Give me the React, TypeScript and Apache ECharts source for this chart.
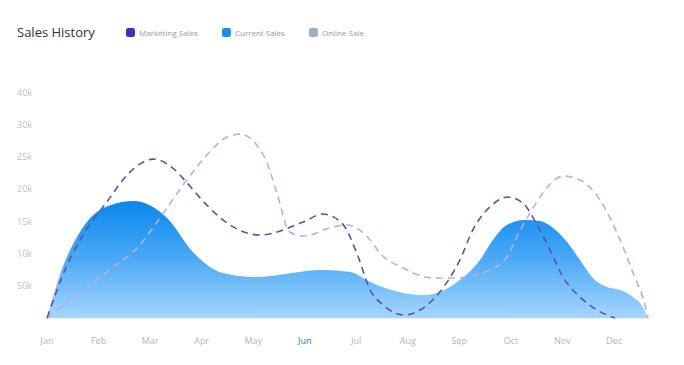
import React, { useEffect, useRef } from "react";
import * as echarts from "echarts";

const months = ["Jan", "Feb", "Mar", "Apr", "May", "Jun", "Jul", "Aug", "Sep", "Oct", "Nov", "Dec"];
const yTickLabels = ["", "50k", "10k", "15k", "20k", "25k", "30k", "40k"];

const marketingX = [0, 0.39, 0.7, 1.16, 1.61, 2.06, 2.44, 2.72, 3.1, 3.55, 4.13, 4.97, 5.35, 5.72, 6.01, 6.27, 6.52, 6.94, 7.24, 7.62, 8.01, 8.26, 8.59, 8.94, 9.23, 9.51, 9.76, 10.01, 10.34, 10.67, 11.02];
const marketingY = [0, 8200, 12850, 17960, 22600, 24610, 23220, 20900, 17490, 14400, 12850, 14860, 16100, 14710, 10060, 4330, 2010, 460, 1240, 4020, 8980, 13620, 17180, 18730, 17800, 14400, 10530, 6350, 3250, 1240, 0];

const currentX = [0, 0.25, 0.64, 1.03, 1.67, 2.33, 2.83, 3.41, 4.03, 5.35, 5.88, 6.27, 6.91, 7.33, 8.01, 8.4, 8.65, 8.92, 9.27, 9.56, 9.82, 10.09, 10.34, 10.59, 10.86, 11.12, 11.37, 11.56, 11.66];
const currentY = [0, 6660, 13310, 16720, 18110, 15480, 10220, 6970, 6350, 7430, 7120, 5570, 3870, 3560, 5880, 8980, 12070, 14400, 15170, 15020, 13930, 11760, 8980, 6190, 4800, 4330, 3250, 1700, 0];

const onlineX = [0, 0.5, 1.16, 1.8, 2.19, 2.64, 3.1, 3.49, 3.74, 4.07, 4.27, 4.46, 4.71, 4.97, 5.55, 5.82, 6.27, 6.46, 6.91, 7.49, 7.95, 8.15, 8.59, 8.92, 9.18, 9.37, 9.62, 10.01, 10.34, 10.73, 11.06, 11.37, 11.64, 11.66];
const onlineY = [0, 3100, 7120, 11300, 15480, 20590, 25230, 28020, 28480, 26780, 24000, 19350, 13310, 12690, 14090, 14400, 12070, 10060, 7740, 6190, 6190, 6350, 7430, 9440, 13620, 16250, 19350, 21980, 21360, 18270, 13160, 6970, 770, 0];

const xMax = 11.66;

const pairs = (xs: number[], ys: number[]) => xs.map((x, i) => [x, ys[i]]);

// Monotone cubic (Fritsch–Carlson, as d3.curveMonotoneX) through pixel points
function monotonePath(pts: number[][]): string {
  const n = pts.length;
  const h: number[] = [];
  const s: number[] = [];
  for (let i = 0; i < n - 1; i++) {
    h[i] = pts[i + 1][0] - pts[i][0];
    s[i] = (pts[i + 1][1] - pts[i][1]) / (h[i] || 1e-6);
  }
  const t: number[] = new Array(n).fill(0);
  const sign = (v: number) => (v < 0 ? -1 : 1);
  for (let i = 1; i < n - 1; i++) {
    const s0 = s[i - 1];
    const s1 = s[i];
    const p = (s0 * h[i] + s1 * h[i - 1]) / (h[i - 1] + h[i]);
    t[i] = (sign(s0) + sign(s1)) * Math.min(Math.abs(s0), Math.abs(s1), 0.5 * Math.abs(p)) || 0;
  }
  t[0] = n > 2 ? (3 * s[0] - t[1]) / 2 : s[0];
  t[n - 1] = n > 2 ? (3 * s[n - 2] - t[n - 2]) / 2 : s[0];
  let d = `M${pts[0][0]},${pts[0][1]}`;
  for (let i = 0; i < n - 1; i++) {
    const dx = h[i] / 3;
    const [x0, y0] = pts[i];
    const [x1, y1] = pts[i + 1];
    d += `C${x0 + dx},${y0 + dx * t[i]},${x1 - dx},${y1 - dx * t[i + 1]},${x1},${y1}`;
  }
  return d;
}

export default function App() {
  const ref = useRef<HTMLDivElement>(null);
  useEffect(() => {
    if (!ref.current) return;
    const chart = echarts.init(ref.current, null, { renderer: "svg" });
    const font = "'Open Sans', 'Noto Sans', sans-serif";

    const curveSeries = (
      name: string,
      xs: number[],
      ys: number[],
      z: number,
      style: any,
      area: boolean
    ) => ({
      name,
      type: "custom",
      coordinateSystem: "cartesian2d",
      encode: { x: 0, y: 1 },
      z,
      silent: true,
      data: pairs(xs, ys),
      renderItem: (params: any, api: any) => {
        if (params.dataIndex !== 0) return null;
        const pts = xs.map((x, i) => api.coord([x, ys[i]]));
        let d = monotonePath(pts);
        if (area) {
          const b0 = api.coord([xs[xs.length - 1], 0]);
          const b1 = api.coord([xs[0], 0]);
          d += `L${b0[0]},${b0[1]}L${b1[0]},${b1[1]}Z`;
        }
        return { type: "path", shape: { pathData: d }, style };
      },
    });

    chart.setOption({
      animation: false,
      backgroundColor: "#ffffff",
      textStyle: { fontFamily: font },
      title: {
        text: "Sales History",
        left: 17,
        top: 25,
        padding: 0,
        textStyle: { fontFamily: font, fontSize: 13, fontWeight: "normal", color: "#333333" },
      },
      legend: {
        left: 126,
        top: 28,
        padding: 0,
        icon: "roundRect",
        itemWidth: 9,
        itemHeight: 9,
        itemGap: 24,
        textStyle: { fontFamily: font, fontSize: 8, color: "#9a9a9a", padding: [0, 0, 0, -1] },
        itemStyle: { borderWidth: 0 },
        data: [
          { name: "Marketing Sales", itemStyle: { color: "#3a31c2", borderWidth: 0 } },
          { name: "Current Sales", itemStyle: { color: "#1a8ef0", borderWidth: 0 } },
          { name: "Online Sale", itemStyle: { color: "#9eaec4", borderWidth: 0 } },
        ],
      },
      grid: { left: 47, right: 684 - 648, top: 92, bottom: 47, containLabel: false },
      xAxis: {
        type: "value",
        min: 0,
        max: xMax,
        interval: 1,
        splitLine: { show: false },
        axisTick: { show: false },
        axisLine: { show: true, lineStyle: { color: "#f0f2f6", width: 1 } },
        axisLabel: {
          margin: 18,
          fontSize: 9,
          color: "#b5b5b5",
          fontFamily: font,
          showMaxLabel: false,
          formatter: (v: number) => {
            if (!Number.isInteger(v) || v < 0 || v > 11) return "";
            return v === 5 ? "{hl|" + months[v] + "}" : months[v];
          },
          rich: { hl: { color: "#2b78a8", fontSize: 9, fontFamily: font } },
        },
      },
      yAxis: {
        type: "value",
        min: 0,
        max: 35000,
        interval: 5000,
        splitLine: { show: false },
        axisTick: { show: false },
        axisLine: { show: false },
        axisLabel: {
          align: "left",
          margin: 30,
          fontSize: 9,
          color: "#c2c2c2",
          fontFamily: font,
          formatter: (v: number) => yTickLabels[Math.round(v / 5000)] ?? "",
        },
      },
      series: [
        curveSeries("Marketing Sales", marketingX, marketingY, 4, {
          fill: "none",
          stroke: "#5a53a2",
          lineWidth: 1.6,
          lineDash: [7, 5],
        }, false),
        curveSeries("Current Sales", currentX, currentY, 2, {
          fill: new echarts.graphic.LinearGradient(0, 0, 0, 1, [
            { offset: 0, color: "#0a86ee" },
            { offset: 0.5, color: "#4caaf6" },
            { offset: 1, color: "#a6d7fd" },
          ]),
          stroke: "none",
        }, true),
        curveSeries("Online Sale", onlineX, onlineY, 3, {
          fill: "none",
          stroke: "#c6a8dc",
          lineWidth: 1.6,
          lineDash: [7, 5],
        }, false),
      ],
    });
    return () => chart.dispose();
  }, []);
  return (
    <div
      ref={ref}
      style={{ position: "fixed", left: 0, top: 0, width: 684, height: 365, background: "#fff" }}
    />
  );
}
